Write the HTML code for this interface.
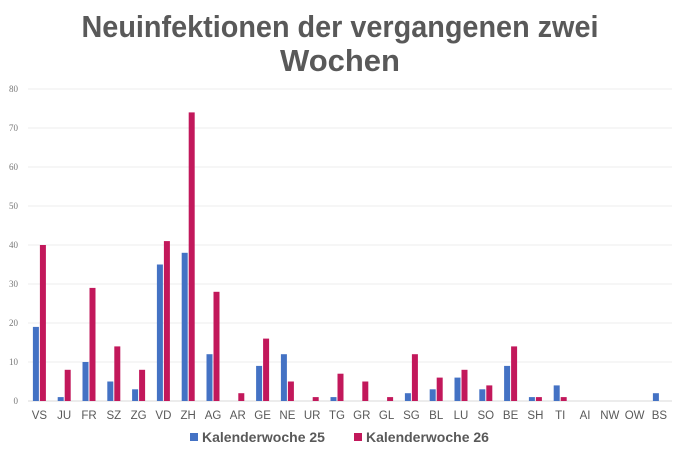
<!DOCTYPE html>
<html><head><meta charset="utf-8"><style>
body{margin:0;background:#fff}
svg{display:block}
</style></head><body>
<svg width="680" height="455" xmlns="http://www.w3.org/2000/svg" font-family="Liberation Sans, sans-serif">
<rect width="680" height="455" fill="#fff"/>
<text x="340" y="37" text-anchor="middle" font-size="31" font-weight="bold" fill="#595959" textLength="517" lengthAdjust="spacingAndGlyphs">Neuinfektionen der vergangenen zwei</text>
<text x="340" y="71" text-anchor="middle" font-size="31" font-weight="bold" fill="#595959">Wochen</text>
<g id="grid" stroke="#e8e8e8" stroke-width="1"></g>
<g id="ylab" font-family="Liberation Serif, serif" font-size="9" fill="#777" text-anchor="end"></g>
<g id="bars"></g>
<g id="xlab" font-size="11.5" fill="#595959" text-anchor="middle"></g>
<rect x="190" y="433" width="8" height="8" fill="#4472C4"/>
<text x="202" y="442" font-size="14" font-weight="bold" fill="#595959">Kalenderwoche 25</text>
<rect x="354" y="433" width="8" height="8" fill="#C2185B"/>
<text x="366" y="442" font-size="14" font-weight="bold" fill="#595959">Kalenderwoche 26</text>
</svg>
<script>
const ns="http://www.w3.org/2000/svg";
const cats="VS JU FR SZ ZG VD ZH AG AR GE NE UR TG GR GL SG BL LU SO BE SH TI AI NW OW BS".split(" ");
const a=[19,1,10,5,3,35,38,12,0,9,12,0,1,0,0,2,3,6,3,9,1,4,0,0,0,2];
const b=[40,8,29,14,8,41,74,28,2,16,5,1,7,5,1,12,6,8,4,14,1,1,0,0,0,0];
const y0=401,k=3.9,x0=27,w=24.8;
function el(t,at,p,txt){const e=document.createElementNS(ns,t);for(const q in at)e.setAttribute(q,at[q]);if(txt!=null)e.textContent=txt;document.getElementById(p).appendChild(e);}
for(let v=0;v<=80;v+=10){const y=y0-v*k;el("line",{x1:28,x2:672,y1:y,y2:y,stroke:v==0?"#d9d9d9":"#ececec"},"grid");el("text",{x:18,y:y+3},"ylab",v);}
cats.forEach((c,i)=>{const cx=x0+w*(i+0.5);
if(a[i])el("rect",{x:cx-6.5,y:y0-a[i]*k,width:6,height:a[i]*k,fill:"#4472C4"},"bars");
if(b[i])el("rect",{x:cx+0.5,y:y0-b[i]*k,width:6,height:b[i]*k,fill:"#C2185B"},"bars");
el("text",{x:cx,y:419},"xlab",c);});
</script>
</body></html>
